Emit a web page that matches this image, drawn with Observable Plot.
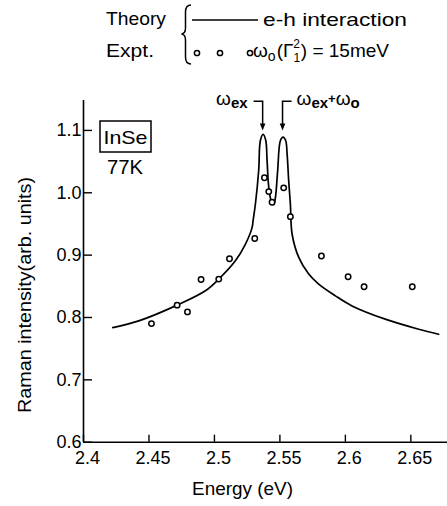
<!DOCTYPE html>
<html>
<head>
<meta charset="utf-8">
<script src="https://cdn.jsdelivr.net/npm/d3@7"></script>
<script src="https://cdn.jsdelivr.net/npm/@observablehq/plot@0.6"></script>
<style>
  html, body { margin: 0; padding: 0; background: white; }
  svg { display: block; }
</style>
</head>
<body>
<div id="chart"></div>
<script>
// ---- data ----
const theoryE = [2.4224, 2.4422, 2.4715, 2.4931, 2.5033, 2.5160, 2.5237, 2.5288, 2.5295, 2.5313, 2.5338, 2.5351, 2.5372, 2.5392, 2.5402, 2.5415, 2.5435, 2.5453, 2.5466, 2.5483, 2.5504, 2.5524, 2.5544, 2.5555, 2.5567, 2.5580, 2.5593, 2.5644, 2.5720, 2.5796, 2.5924, 2.6051, 2.6305, 2.6560, 2.6712];
const theoryI = [0.7838, 0.7945, 0.8198, 0.8428, 0.8616, 0.8910, 0.9178, 0.9445, 0.955, 0.982, 1.0357, 1.0839, 1.0936, 1.0839, 1.052, 1.0088, 0.986, 0.981, 0.9928, 1.0357, 1.0839, 1.0892, 1.0839, 1.0625, 1.0196, 0.982, 0.9339, 0.8963, 0.8696, 0.8535, 0.8347, 0.8186, 0.7973, 0.7812, 0.7732];

const exptE = [2.4519, 2.4715, 2.4794, 2.4898, 2.5033, 2.5115, 2.5308, 2.5382, 2.5415, 2.5440, 2.5529, 2.5580, 2.5817, 2.6021, 2.6143, 2.6511];
const exptI = [0.7902, 0.8198, 0.8090, 0.8610, 0.8616, 0.8942, 0.9268, 1.0240, 1.0019, 0.9847, 1.0079, 0.9617, 0.8986, 0.8653, 0.8492, 0.8492];

const xTicks = [2.4, 2.45, 2.5, 2.55, 2.6, 2.65];
const xTickLabels = ["2.4", "2.45", "2.5", "2.55", "2.6", "2.65"];
const yTicks = [0.6, 0.7, 0.8, 0.9, 1.0, 1.1];
const yTickLabels = ["0.6", "0.7", "0.8", "0.9", "1.0", "1.1"];

const xDomain = [2.4, 2.678];
const yDomain = [0.6, 1.148];

// annotation arrows (peak energies)
const arrowE = [2.5372, 2.5524];
const arrowTopI = 1.146;
const arrowTipI = 1.099;

// ---- layout ----
const W = 447, H = 506;
const mL = 83, mR = 0, mT = 100, mB = 64.3;
const font = "'Liberation Sans', Arial, sans-serif";

const theory = theoryE.map((e, i) => ({E: e, I: theoryI[i]}));
const expt = exptE.map((e, i) => ({E: e, I: exptI[i]}));

// tick lengths in pixels converted to data units
const pxPerX = (W - mL - mR) / (xDomain[1] - xDomain[0]);
const pxPerY = (H - mT - mB) / (yDomain[1] - yDomain[0]);
const xTickLen = 7 / pxPerY;
const yTickLen = 9 / pxPerX;

const plot = Plot.plot({
  width: W, height: H,
  marginLeft: mL, marginRight: mR, marginTop: mT, marginBottom: mB,
  style: {fontFamily: font, fontSize: "18px", color: "black", background: "white", overflow: "visible"},
  x: {domain: xDomain},
  y: {domain: yDomain},
  marks: [
    Plot.axisX(xTicks, {tickSize: 0, tickPadding: 9, dx: 4, tickFormat: d => xTickLabels[xTicks.indexOf(d)], label: null, fill: "black"}),
    Plot.axisY(yTicks, {tickSize: 0, tickPadding: 2, tickFormat: d => yTickLabels[yTicks.indexOf(d)], label: null, fill: "black"}),
    Plot.ruleX(xTicks, {x: d => d, y1: yDomain[0], y2: yDomain[0] + xTickLen, stroke: "black", strokeWidth: 1.4}),
    Plot.ruleY(yTicks, {y: d => d, x1: xDomain[0], x2: xDomain[0] + yTickLen, stroke: "black", strokeWidth: 1.4}),
    Plot.ruleX([xDomain[0]], {stroke: "black", strokeWidth: 1.6}),
    Plot.ruleY([yDomain[0]], {stroke: "black", strokeWidth: 1.6}),
    Plot.line(theory, {x: "E", y: "I", curve: "catmull-rom", stroke: "black", strokeWidth: 1.7}),
    Plot.dot(expt, {x: "E", y: "I", r: 2.7, stroke: "black", strokeWidth: 1.5, fill: "white"})
  ]
});

document.getElementById("chart").appendChild(plot);

const svg = d3.select(plot);
const xs = v => plot.scale("x").apply(v);
const ys = v => plot.scale("y").apply(v);

const g = svg.append("g").attr("font-family", font).attr("fill", "black").attr("text-anchor", "start");

// axis titles
g.append("text").attr("x", 192).attr("y", 495).attr("font-size", 19)
  .attr("textLength", 101).attr("lengthAdjust", "spacingAndGlyphs").text("Energy (eV)");
g.append("text").attr("transform", "translate(31,295) rotate(-90)").attr("text-anchor", "middle")
  .attr("font-size", 18).attr("textLength", 236).attr("lengthAdjust", "spacingAndGlyphs")
  .text("Raman intensity(arb. units)");

// InSe box
g.append("rect").attr("x", 100).attr("y", 121).attr("width", 51).attr("height", 31)
  .attr("fill", "none").attr("stroke", "black").attr("stroke-width", 1.5);
g.append("text").attr("x", 125.5).attr("y", 143.5).attr("text-anchor", "middle").attr("font-size", 19)
  .attr("textLength", 44).attr("lengthAdjust", "spacingAndGlyphs").text("InSe");
g.append("text").attr("x", 125).attr("y", 174).attr("text-anchor", "middle").attr("font-size", 20)
  .attr("textLength", 36).attr("lengthAdjust", "spacingAndGlyphs").text("77K");

// arrows
arrowE.forEach((e, i) => {
  const x = xs(e), y0 = ys(arrowTopI), y1 = ys(arrowTipI);
  const hx = i === 0 ? x - 9 : x + 9;
  g.append("path").attr("d", `M${hx},${y0}H${x}V${y1 - 6}`).attr("fill", "none")
    .attr("stroke", "black").attr("stroke-width", 1.5);
  g.append("path").attr("d", `M${x - 2.8},${y1 - 7}L${x + 2.8},${y1 - 7}L${x},${y1}Z`).attr("fill", "black");
});
// labels for arrows
const ax1 = xs(arrowE[0]), ax2 = xs(arrowE[1]), ayL = ys(arrowTopI);
const t1 = g.append("text").attr("x", ax1 - 15).attr("y", ayL + 4).attr("text-anchor", "end").attr("font-size", 19);
t1.append("tspan").text("ω");
t1.append("tspan").attr("font-size", 15).attr("font-weight", "bold").attr("dy", 3).text("ex");
const t2 = g.append("text").attr("x", ax2 + 14).attr("y", ayL + 4).attr("font-size", 19);
t2.append("tspan").text("ω");
t2.append("tspan").attr("font-size", 15).attr("font-weight", "bold").attr("dy", 3).text("ex");
t2.append("tspan").attr("font-size", 13).attr("font-weight", "bold").attr("dy", -5).text("+");
t2.append("tspan").attr("font-size", 19).attr("dy", 2).text("ω");
t2.append("tspan").attr("font-size", 15).attr("font-weight", "bold").attr("dy", 3).text("o");

// legend
g.append("text").attr("x", 106).attr("y", 25).attr("font-size", 19)
  .attr("textLength", 60).attr("lengthAdjust", "spacingAndGlyphs").text("Theory");
g.append("text").attr("x", 106).attr("y", 57).attr("font-size", 19)
  .attr("textLength", 48).attr("lengthAdjust", "spacingAndGlyphs").text("Expt.");
g.append("path").attr("d", "M191,5 Q185.5,5 185.5,12 L185.5,28 Q185.5,33.5 181.5,34 Q185.5,34.5 185.5,40 L185.5,57 Q185.5,64 191,64")
  .attr("fill", "none").attr("stroke", "black").attr("stroke-width", 1.5);
g.append("line").attr("x1", 192).attr("x2", 258).attr("y1", 20).attr("y2", 20)
  .attr("stroke", "black").attr("stroke-width", 1.6);
g.append("text").attr("x", 263).attr("y", 26).attr("font-size", 19)
  .attr("textLength", 144).attr("lengthAdjust", "spacingAndGlyphs").text("e-h interaction");
[197, 220, 250].forEach(cx => {
  g.append("circle").attr("cx", cx).attr("cy", 53).attr("r", 2.6).attr("fill", "white")
    .attr("stroke", "black").attr("stroke-width", 1.5);
});
const t3 = g.append("text").attr("x", 253).attr("y", 57).attr("font-size", 19);
t3.append("tspan").text("ω");
t3.append("tspan").attr("font-size", 14).attr("dy", 4).text("o");
t3.append("tspan").attr("dy", -4).attr("dx", 1).text("(Γ");
t3.append("tspan").attr("font-size", 12).attr("dy", 5).text("1");
t3.append("tspan").attr("font-size", 12).attr("dx", -7).attr("dy", -14).text("2");
t3.append("tspan").attr("dy", 9).attr("dx", 1).text(") = 15meV");
</script>
</body>
</html>
